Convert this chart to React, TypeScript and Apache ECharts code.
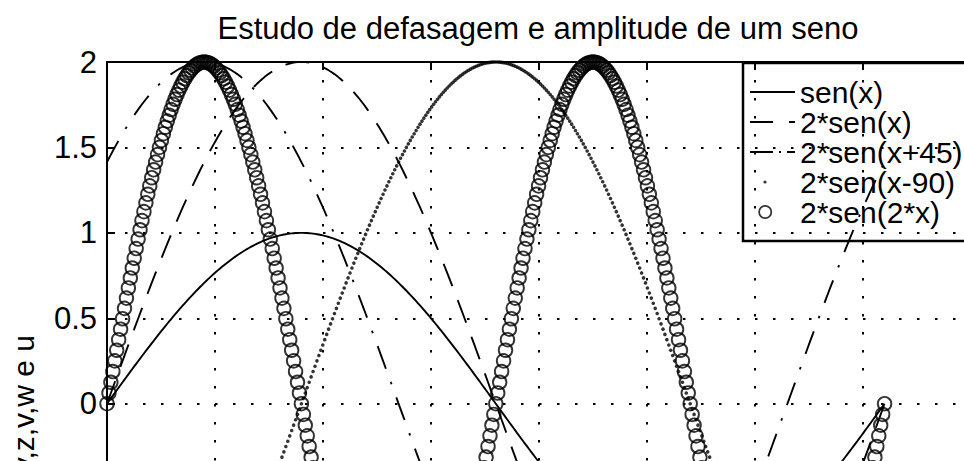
import React, { useEffect, useRef } from 'react';
import * as echarts from 'echarts';

const titleText = 'Estudo de defasagem e amplitude de um seno';
const yAxisName = 'y,z,v,w e u';
const seriesNames = ['sen(x)', '2*sen(x)', '2*sen(x+45)', '2*sen(x-90)', '2*sen(2*x)'];
const amplitudes = [1, 2, 2, 2, 2];
const frequencies = [1, 1, 1, 1, 2];
const phasesDeg = [0, 0, 45, -90, 0];
// sample grid in degrees: 0 .. 360 (pi/200 rad steps)
const xFromDeg = 0;
const xToDeg = 360;
const sampleIntervals = 400;
const xRange = [0, 400];
const xTickStep = 50;
const yRange = [-2, 2];
const yTickStep = 0.5;

const FONT = '"Liberation Sans", Arial, Helvetica, sans-serif';

const legendIcons = [
  'path://M0 0M45 14M0 6.1L45 6.1L45 7.9L0 7.9Z',
  'path://M0 0M45 14M0 6.1L23 6.1L23 7.9L0 7.9ZM39 6.1L45 6.1L45 7.9L39 7.9Z',
  'path://M0 0M45 14M0 6.1L23 6.1L23 7.9L0 7.9ZM29 6.1L31 6.1L31 7.9L29 7.9ZM37 6.1L45 6.1L45 7.9L37 7.9Z',
  'path://M0 0M45 14M13.4 7a1.6 1.6 0 1 0 3.2 0a1.6 1.6 0 1 0 -3.2 0Z',
  'path://M0 0M45 14M7.8 7a7.2 7.2 0 1 0 14.4 0a7.2 7.2 0 1 0 -14.4 0ZM9.6 7a5.4 5.4 0 1 1 10.8 0a5.4 5.4 0 1 1 -10.8 0Z',
];

function buildSeriesData(k: number): number[][] {
  const pts: number[][] = [];
  for (let i = 0; i <= sampleIntervals; i++) {
    const x = xFromDeg + ((xToDeg - xFromDeg) * i) / sampleIntervals;
    const y = amplitudes[k] * Math.sin(((frequencies[k] * x + phasesDeg[k]) * Math.PI) / 180);
    pts.push([x, y]);
  }
  return pts;
}

export default function App() {
  const ref = useRef<HTMLDivElement>(null);
  useEffect(() => {
    if (!ref.current) return;
    const chart = echarts.init(ref.current, undefined, { renderer: 'svg' });
    const black = '#000';
    const gridDots = { color: black, width: 2, type: [2.5, 15.5] as any };
    const axisLine = { show: true, onZero: false, lineStyle: { color: black, width: 2 } };
    const axisTick = { show: true, inside: true, length: 8, lineStyle: { color: black, width: 2 } };
    const lineTypes: any[] = ['solid', [24, 15], [24, 14, 2.5, 14]];

    const series: any[] = seriesNames.map((name, k) => {
      const data = buildSeriesData(k);
      if (k < 3) {
        return {
          name,
          type: 'line',
          data,
          symbol: 'none',
          smooth: false,
          color: black,
          lineStyle: { color: black, width: 1.9, type: lineTypes[k] },
          z: 3,
        };
      }
      if (k === 3) {
        return {
          name,
          type: 'scatter',
          data,
          symbol: 'circle',
          symbolSize: 3.6,
          color: black,
          itemStyle: { color: black },
          clip: false,
          z: 4,
        };
      }
      return {
        name,
        type: 'scatter',
        data,
        symbol: 'circle',
        symbolSize: 13.5,
        color: black,
        itemStyle: { color: 'rgba(0,0,0,0)', borderColor: black, borderWidth: 1.9 },
        clip: false,
        z: 5,
      };
    });

    chart.setOption({
      animation: false,
      backgroundColor: '#fff',
      title: {
        text: titleText,
        left: 'center',
        top: 13,
        padding: 0,
        textStyle: { fontSize: 31, fontWeight: 'normal', color: black, fontFamily: FONT },
      },
      legend: {
        show: true,
        orient: 'vertical',
        left: 743,
        top: 63,
        padding: [14, 40, 14, 7],
        itemGap: 0,
        itemWidth: 45,
        itemHeight: 14,
        borderColor: black,
        borderWidth: 2.5,
        selectedMode: false,
        textStyle: { fontSize: 30, color: black, fontFamily: FONT },
        data: seriesNames.map((name, k) => ({
          name,
          icon: legendIcons[k],
          itemStyle: { color: black, borderWidth: 0 },
        })),
      },
      grid: { left: 105, top: 62, width: 866, height: 683.4, containLabel: false },
      xAxis: [
        {
          type: 'value',
          min: xRange[0],
          max: xRange[1],
          interval: xTickStep,
          position: 'bottom',
          axisLine,
          axisTick,
          axisLabel: { show: false },
          splitLine: { show: true, lineStyle: gridDots },
        },
        {
          type: 'value',
          min: xRange[0],
          max: xRange[1],
          interval: xTickStep,
          position: 'top',
          axisLine,
          axisTick,
          axisLabel: { show: false },
          splitLine: { show: false },
        },
      ],
      yAxis: [
        {
          type: 'value',
          min: yRange[0],
          max: yRange[1],
          interval: yTickStep,
          position: 'left',
          name: yAxisName,
          nameLocation: 'middle',
          nameRotate: 90,
          nameGap: 69,
          nameTextStyle: { fontSize: 30, color: black, fontFamily: FONT },
          axisLine,
          axisTick,
          axisLabel: {
            fontSize: 31,
            color: black,
            fontFamily: FONT,
            margin: 10,
            formatter: (v: number) => (v < 0 ? '' : String(v)),
          },
          splitLine: { show: true, lineStyle: gridDots },
        },
      ],
      series,
    });
    return () => chart.dispose();
  }, []);

  return (
    <div
      style={{
        position: 'fixed',
        left: 0,
        top: 0,
        width: 964,
        height: 461,
        overflow: 'hidden',
        background: '#fff',
      }}
    >
      <div ref={ref} style={{ width: 1076, height: 800 }} />
    </div>
  );
}
